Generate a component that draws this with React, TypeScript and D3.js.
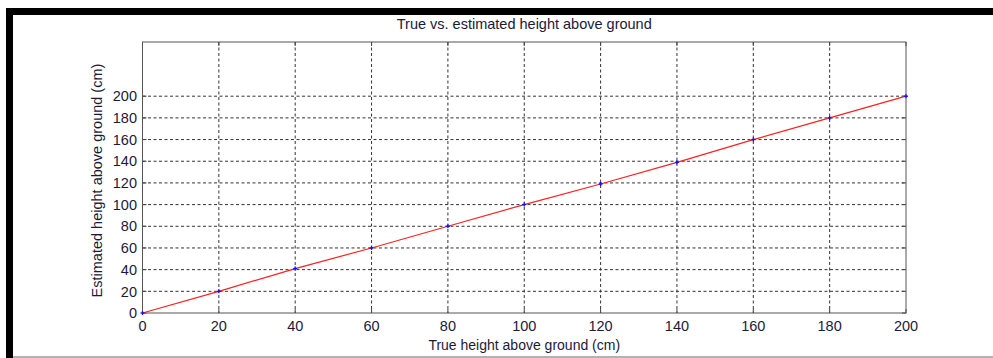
import React from "react";
import * as d3 from "d3";

const trueHeight = [0, 20, 40, 60, 80, 100, 120, 140, 160, 180, 200];
const estimatedHeight = [0, 20, 41, 60, 80, 100, 119, 139, 160, 180, 200];
const xTicks = [0, 20, 40, 60, 80, 100, 120, 140, 160, 180, 200];
const yTicks = [0, 20, 40, 60, 80, 100, 120, 140, 160, 180, 200];
const title = "True vs. estimated height above ground";
const xLabel = "True height above ground (cm)";
const yLabel = "Estimated height above ground (cm)";

export default function App() {
  const W = 993, H = 358;
  const L = 142.5, R = 906, T = 42, B = 313;
  const x = d3.scaleLinear().domain([0, 200]).range([L, R]);
  const y = d3.scaleLinear().domain([0, 250]).range([B, T]);
  const line = d3.line<number>().x((_, i) => x(trueHeight[i])).y((d) => y(d));
  const font = "'Liberation Sans', Arial, sans-serif";
  const tk = 4;
  const txt = "#1a1a3a";
  return (
    <svg width={W} height={H} style={{ position: "absolute", left: 0, top: 0, background: "#fff" }} fontFamily={font}>
      <rect x={6} y={8} width={W - 6} height={7} fill="#000" />
      <rect x={6} y={8} width={7} height={H - 8} fill="#000" />
      <line x1={13} x2={W} y1={357} y2={357} stroke="#666" strokeWidth={1} />
      {xTicks.map((t) => (
        <g key={"x" + t}>
          {t > 0 && t < 200 && (
            <line x1={x(t)} x2={x(t)} y1={T} y2={B} stroke="#333" strokeDasharray="3,2.5" strokeWidth={1} />
          )}
          <line x1={x(t)} x2={x(t)} y1={B} y2={B - tk} stroke="#444" />
          <line x1={x(t)} x2={x(t)} y1={T} y2={T + tk} stroke="#444" />
          <text x={x(t)} y={331} textAnchor="middle" fontSize={14.5} fill={txt}>{t}</text>
        </g>
      ))}
      {yTicks.map((t) => (
        <g key={"y" + t}>
          {t > 0 && (
            <line x1={L} x2={R} y1={y(t)} y2={y(t)} stroke="#333" strokeDasharray="3,2.5" strokeWidth={1} />
          )}
          <line x1={L} x2={L + tk} y1={y(t)} y2={y(t)} stroke="#444" />
          <line x1={R} x2={R - tk} y1={y(t)} y2={y(t)} stroke="#444" />
          <text x={137} y={y(t) + 5.2} textAnchor="end" fontSize={14.5} fill={txt}>{t}</text>
        </g>
      ))}
      <rect x={L} y={T} width={R - L} height={B - T} fill="none" stroke="#555" strokeWidth={1} />
      <path d={line(estimatedHeight) || ""} fill="none" stroke="#ff2020" strokeWidth={1.2} />
      {estimatedHeight.map((v, i) => (
        <g key={"p" + i} stroke="#1010ff" strokeWidth={1.3}>
          <line x1={x(trueHeight[i]) - 2} x2={x(trueHeight[i]) + 2} y1={y(v)} y2={y(v)} />
          <line x1={x(trueHeight[i])} x2={x(trueHeight[i])} y1={y(v) - 2} y2={y(v) + 2} />
        </g>
      ))}
      <text x={(L + R) / 2} y={29} textAnchor="middle" fontSize={14.5} fill={txt}>{title}</text>
      <text x={(L + R) / 2} y={350} textAnchor="middle" fontSize={14} fill={txt}>{xLabel}</text>
      <text transform={`translate(102,${(T + B) / 2 + 3}) rotate(-90)`} textAnchor="middle" fontSize={14.5} fill={txt}>{yLabel}</text>
    </svg>
  );
}
